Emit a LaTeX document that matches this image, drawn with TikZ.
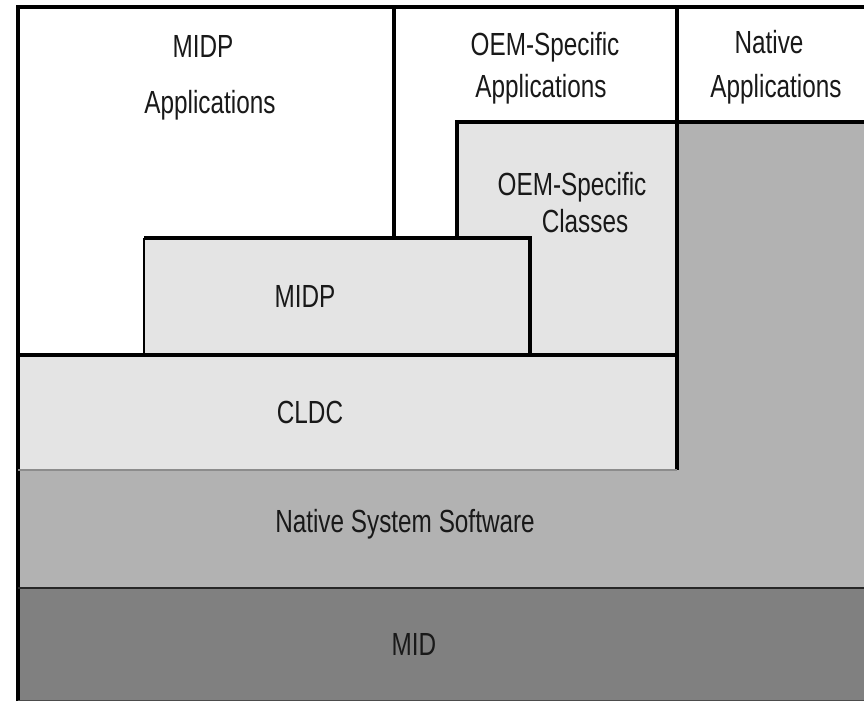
\documentclass[tikz,border=0pt]{standalone}
\usepackage{fontspec}
\setmainfont{Liberation Sans}[FakeStretch=0.76]
\definecolor{lightlayer}{gray}{0.894}
\definecolor{nativelayer}{gray}{0.70}
\definecolor{midlayer}{gray}{0.50}
\tikzset{
    layertext/.style={font=\fontsize{32}{38}\selectfont, anchor=base, inner sep=0pt, text=black!90},
    edge/.style={line width=3.6pt, line join=miter},
    thinedge/.style={line width=1.8pt}
}

\begin{document}
\begin{tikzpicture}[x=1pt,y=-1pt]
    \useasboundingbox (0,0) rectangle (864,702);
    \fill[white] (0,0) rectangle (864,702);

    % layers
    \fill[nativelayer] (677,122) -- (864,122) -- (864,588) -- (18,588) -- (18,470) -- (677,470) -- cycle;
    \fill[midlayer] (18,588) rectangle (864,701);
    \fill[lightlayer] (18,355) rectangle (677,470);
    \fill[lightlayer] (144,238) rectangle (530,355);
    \fill[lightlayer] (457,122) -- (677,122) -- (677,355) -- (530,355) -- (530,238) -- (457,238) -- cycle;

    % borders
    \draw[edge] (18,701) -- (18,7) -- (864,7);
    \draw[edge] (394,7) -- (394,238);
    \draw[edge] (677,7) -- (677,470);
    \draw[edge] (457,238) -- (457,122) -- (864,122);
    \draw[edge] (144,238) -- (530,238) -- (530,355);
    \draw[thinedge] (144,238) -- (144,355);
    \draw[edge] (18,355) -- (677,355);
    \draw[thinedge, black!45] (18,470) -- (677,470);
    \draw[line width=2.4pt, black!85] (18,588) -- (864,588);
    \draw[thinedge, black!70] (18,700.5) -- (864,700.5);

    % labels
    \node[layertext] (midpapps1) at (203,57) {MIDP};
    \node[layertext] (midpapps2) at (210,113) {Applications};
    \node[layertext] (oemapps1) at (545,55) {OEM-Specific};
    \node[layertext] (oemapps2) at (541,97) {Applications};
    \node[layertext] (nativeapps1) at (769,53) {Native};
    \node[layertext] (nativeapps2) at (776,97) {Applications};
    \node[layertext] (oemclasses1) at (572,195) {OEM-Specific};
    \node[layertext] (oemclasses2) at (585,232) {Classes};
    \node[layertext] (midp) at (305,307) {MIDP};
    \node[layertext] (cldc) at (310,423) {CLDC};
    \node[layertext] (nss) at (405,532) {Native System Software};
    \node[layertext] (mid) at (414,655) {MID};
\end{tikzpicture}
\end{document}
